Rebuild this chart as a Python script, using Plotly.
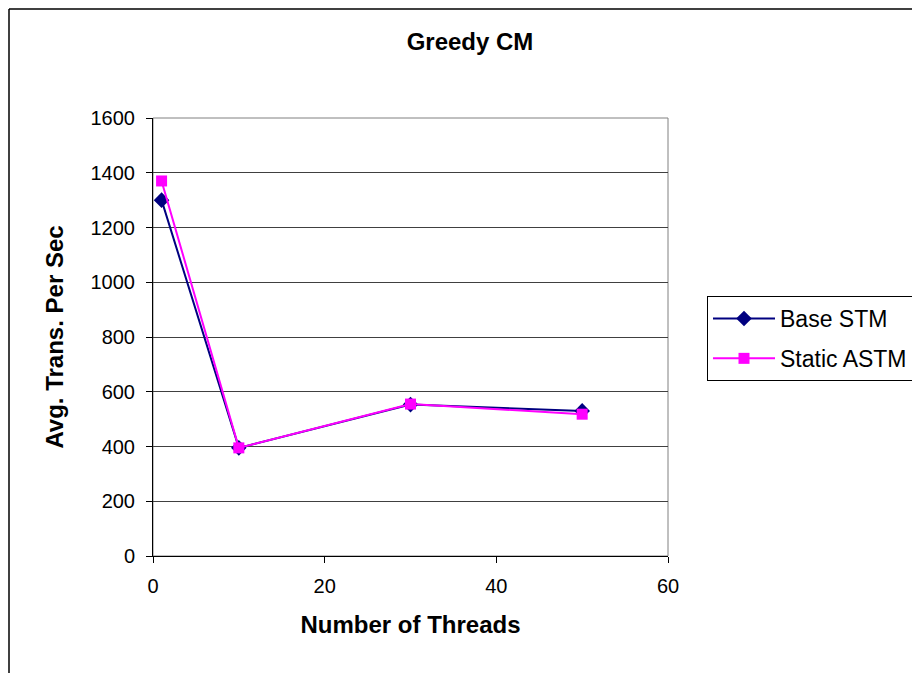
import plotly.graph_objects as go

threads = [1, 10, 30, 50]
base_stm = [1300, 395, 553, 530]
static_astm = [1370, 395, 555, 518]
x_ticks = [0, 20, 40, 60]
y_ticks = [0, 200, 400, 600, 800, 1000, 1200, 1400, 1600]

OFF = 8  # browser body margin
W, H = 920, 673
# plot area in screen pixels
SL, SR, ST, SB = 153, 668, 118, 556
L, R, T, B = SL - OFF, SR - OFF, ST - OFF, SB - OFF

def px(s):
    return (s - OFF - L) / (R - L)

def py(s):
    return (B - (s - OFF)) / (B - T)

fig = go.Figure()
fig.add_trace(go.Scatter(x=threads, y=base_stm, name="Base STM", mode="lines+markers",
                         legendgroup="a",
                         line=dict(color="#000080", width=2),
                         marker=dict(symbol="diamond", size=12, color="#000080")))
fig.add_trace(go.Scatter(x=threads, y=static_astm, name="Static ASTM", mode="lines+markers",
                         legendgroup="b",
                         line=dict(color="#FF00FF", width=2),
                         marker=dict(symbol="square", size=11, color="#FF00FF")))

# outer chart border (left and top edges visible)
fig.add_shape(type="line", xref="paper", yref="paper",
              x0=px(OFF + 1), x1=px(OFF + 1), y0=py(1000), y1=py(OFF + 1),
              line=dict(color="black", width=1.5), layer="below")
fig.add_shape(type="line", xref="paper", yref="paper",
              x0=px(OFF + 1), x1=px(1000), y0=py(OFF + 1), y1=py(OFF + 1),
              line=dict(color="black", width=1.5), layer="below")
# plot area border
fig.add_shape(type="rect", xref="paper", yref="paper", x0=0, x1=1, y0=0, y1=1,
              line=dict(color="#808080", width=1), layer="below")

font = "Liberation Sans, Arial, sans-serif"
fig.update_layout(
    width=W, height=H,
    margin=dict(l=L, r=W - R, t=T, b=H - B),
    paper_bgcolor="white", plot_bgcolor="white",
    font=dict(family=font, size=20, color="black"),
    title=dict(text="<b>Greedy CM</b>", x=(470 - OFF) / W, xanchor="center",
               y=1 - (42 - OFF) / H, yanchor="middle",
               font=dict(size=24, family=font)),
    showlegend=True,
    legend=dict(x=px(707), y=py(296), xanchor="left", yanchor="top",
                bordercolor="black", borderwidth=1, bgcolor="white",
                font=dict(size=23, family=font), tracegroupgap=7, itemwidth=62),
    xaxis=dict(range=[0, 60], tickvals=x_ticks, showgrid=False, zeroline=False,
               showline=True, linecolor="black", linewidth=1,
               ticks="outside", ticklen=6, tickcolor="black", ticklabelstandoff=6,
               title=dict(text="<b>Number of Threads</b>", font=dict(size=24), standoff=20),
               tickfont=dict(size=20)),
    yaxis=dict(range=[0, 1600], tickvals=y_ticks, showgrid=True, gridcolor="#404040", gridwidth=1,
               zeroline=False, showline=True, linecolor="black", linewidth=1,
               ticks="outside", ticklen=6, tickcolor="black", ticklabelstandoff=7,
               title=dict(text="<b>Avg. Trans. Per Sec</b>", font=dict(size=24), standoff=20),
               tickfont=dict(size=20)),
)

fig.write_html("out.html")
